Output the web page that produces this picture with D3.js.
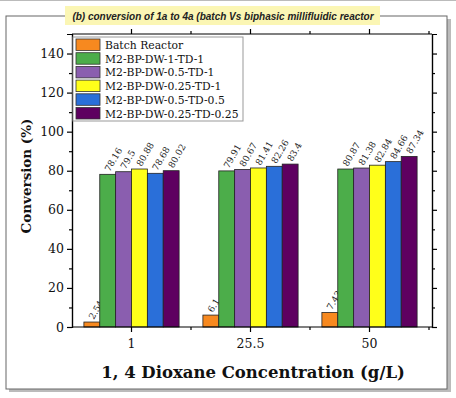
<!DOCTYPE html>
<html>
<head>
<meta charset="utf-8">
<script src="https://cdn.jsdelivr.net/npm/d3@7"></script>
<style>
body { margin: 0; background: white; }
svg { display: block; }
.tick text { font-family: "DejaVu Serif", serif; font-size: 12.5px; fill: #111; }
.axis path, .axis line { stroke: black; stroke-width: 1.2; }
</style>
</head>
<body>
<div id="container"></div>
<script>
// categories along the x axis (g/L)
var categories = ["1", "25.5", "50"];
var seriesNames = ["Batch Reactor", "M2-BP-DW-1-TD-1", "M2-BP-DW-0.5-TD-1",
                   "M2-BP-DW-0.25-TD-1", "M2-BP-DW-0.5-TD-0.5", "M2-BP-DW-0.25-TD-0.25"];
var batchReactor = [2.54, 6.1, 7.43];
var dw1td1 = [78.16, 79.91, 80.87];
var dw05td1 = [79.5, 80.67, 81.38];
var dw025td1 = [80.88, 81.41, 82.84];
var dw05td05 = [78.68, 82.26, 84.66];
var dw025td025 = [80.02, 83.4, 87.34];
var yTicks = [0, 20, 40, 60, 80, 100, 120, 140];
var colors = ["#f7891f", "#4cad4a", "#8a5eaf", "#ffff1a", "#2a6fd9", "#5e0060"];

var allSeries = [batchReactor, dw1td1, dw05td1, dw025td1, dw05td05, dw025td025];

var width = 456, height = 398;
var margin = {left: 72, right: 24, top: 34, bottom: 71};

var svg = d3.select("#container").append("svg")
    .attr("width", width)
    .attr("height", height);

// outer frame with a soft shadow
svg.append("rect").attr("x", 9).attr("y", 19).attr("width", 442).attr("height", 373).attr("fill", "#bbb");
svg.append("rect").attr("x", 6).attr("y", 16).attr("width", 441).attr("height", 373)
    .attr("fill", "white").attr("stroke", "#666").attr("stroke-width", 1);
svg.append("line").attr("x1", 0).attr("x2", width).attr("y1", 0.5).attr("y2", 0.5)
    .attr("stroke", "#bbb");

// title banner
svg.append("rect").attr("x", 65).attr("y", 6).attr("width", 315).attr("height", 19)
    .attr("fill", "#fbf6b4");
svg.append("text")
    .attr("x", 223).attr("y", 19.5)
    .attr("text-anchor", "middle")
    .attr("font-family", "Liberation Sans, Arial, sans-serif")
    .attr("font-size", 10).attr("font-weight", "bold").attr("font-style", "italic")
    .attr("fill", "#222")
    .text("(b) conversion of 1a to 4a (batch Vs biphasic millifluidic reactor");

var x0 = margin.left, x1 = width - margin.right;
var yTop = margin.top, yBottom = height - margin.bottom;

var x = d3.scaleBand().domain(categories).range([x0, x1 - 3]).paddingInner(0).paddingOuter(0);
var xInner = d3.scaleBand().domain(d3.range(seriesNames.length))
    .range([0, x.bandwidth() * 0.8]);
var y = d3.scaleLinear().domain([0, 150]).range([yBottom, yTop]);

var g = svg.append("g");

// bars
seriesNames.forEach(function(name, si) {
    var vals = allSeries[si];
    g.selectAll(".bar" + si)
        .data(vals)
        .enter()
        .append("rect")
        .attr("x", function(d, i) { return x(categories[i]) + x.bandwidth() * 0.1 + xInner(si); })
        .attr("y", function(d) { return y(d); })
        .attr("width", xInner.bandwidth())
        .attr("height", function(d) { return y(0) - y(d); })
        .attr("fill", colors[si])
        .attr("stroke", "#222")
        .attr("stroke-width", 0.8);

    g.selectAll(".lab" + si)
        .data(vals)
        .enter()
        .append("text")
        .attr("transform", function(d, i) {
            var cx = x(categories[i]) + x.bandwidth() * 0.1 + xInner(si) + xInner.bandwidth() / 2 + 2;
            return "translate(" + cx + "," + (y(d) - 2) + ") rotate(-60)";
        })
        .attr("font-family", "DejaVu Serif, serif")
        .attr("font-size", 9)
        .attr("fill", "#222")
        .text(function(d) { return d; });
});

// axes
var minorY = d3.range(10, 150, 20);
var axL = d3.axisLeft(y).tickValues(yTicks).tickSize(5).tickPadding(3);
var axLm = d3.axisLeft(y).tickValues(minorY).tickSize(3).tickFormat("");
var axR = d3.axisRight(y).tickValues(yTicks).tickSize(5).tickFormat("");
var axRm = d3.axisRight(y).tickValues(minorY).tickSize(3).tickFormat("");

svg.append("g").attr("class", "axis").attr("transform", "translate(" + x0 + ",0)").call(axL);
svg.append("g").attr("class", "axis").attr("transform", "translate(" + x0 + ",0)").call(axLm);
svg.append("g").attr("class", "axis").attr("transform", "translate(" + x1 + ",0)").call(axR);
svg.append("g").attr("class", "axis").attr("transform", "translate(" + x1 + ",0)").call(axRm);

var xc = d3.scalePoint().domain(categories).range([x(categories[0]) + x.bandwidth() / 2,
    x(categories[2]) + x.bandwidth() / 2]);
var boundaries = [x(categories[1]), x(categories[2]), x(categories[2]) + x.bandwidth()];

function hAxis(yPos, dir) {
    var ag = svg.append("g").attr("class", "axis");
    ag.append("line").attr("x1", x0).attr("x2", x1).attr("y1", yPos).attr("y2", yPos)
        .attr("stroke", "black").attr("stroke-width", 1.2);
    categories.forEach(function(c) {
        ag.append("line").attr("x1", xc(c)).attr("x2", xc(c))
            .attr("y1", yPos).attr("y2", yPos + dir * 5).attr("stroke", "black");
    });
    boundaries.forEach(function(b) {
        ag.append("line").attr("x1", b).attr("x2", b)
            .attr("y1", yPos).attr("y2", yPos + dir * 3).attr("stroke", "black");
    });
    return ag;
}
hAxis(yBottom, 1);
hAxis(yTop, -1);

svg.selectAll(".xlab")
    .data(categories)
    .enter()
    .append("text")
    .attr("x", function(d) { return xc(d); })
    .attr("y", yBottom + 21)
    .attr("text-anchor", "middle")
    .attr("font-family", "DejaVu Serif, serif")
    .attr("font-size", 12.5)
    .attr("fill", "#111")
    .text(function(d) { return d; });

// axis titles
svg.append("text")
    .attr("x", 253).attr("y", 378)
    .attr("text-anchor", "middle")
    .attr("font-family", "DejaVu Serif, serif")
    .attr("font-size", 16.5).attr("font-weight", "bold")
    .attr("fill", "#111")
    .text("1, 4 Dioxane Concentration (g/L)");

svg.append("text")
    .attr("transform", "translate(31,176) rotate(-90)")
    .attr("text-anchor", "middle")
    .attr("font-family", "DejaVu Serif, serif")
    .attr("font-size", 13.5).attr("font-weight", "bold")
    .attr("fill", "#111")
    .text("Conversion (%)");

// legend
var legend = svg.append("g").attr("transform", "translate(73,37)");
legend.append("rect").attr("width", 170).attr("height", 84)
    .attr("fill", "white").attr("stroke", "#999").attr("stroke-width", 1);
var item = legend.selectAll(".item")
    .data(seriesNames)
    .enter()
    .append("g")
    .attr("transform", function(d, i) { return "translate(3," + (2 + i * 13.7) + ")"; });
item.append("rect")
    .attr("width", 24).attr("height", 11.5)
    .attr("fill", function(d, i) { return colors[i]; })
    .attr("stroke", "#333").attr("stroke-width", 0.8);
item.append("text")
    .attr("x", 29).attr("y", 10)
    .attr("font-family", "DejaVu Serif, serif")
    .attr("font-size", 10.8)
    .attr("fill", "#111")
    .text(function(d) { return d; });
</script>
</body>
</html>
